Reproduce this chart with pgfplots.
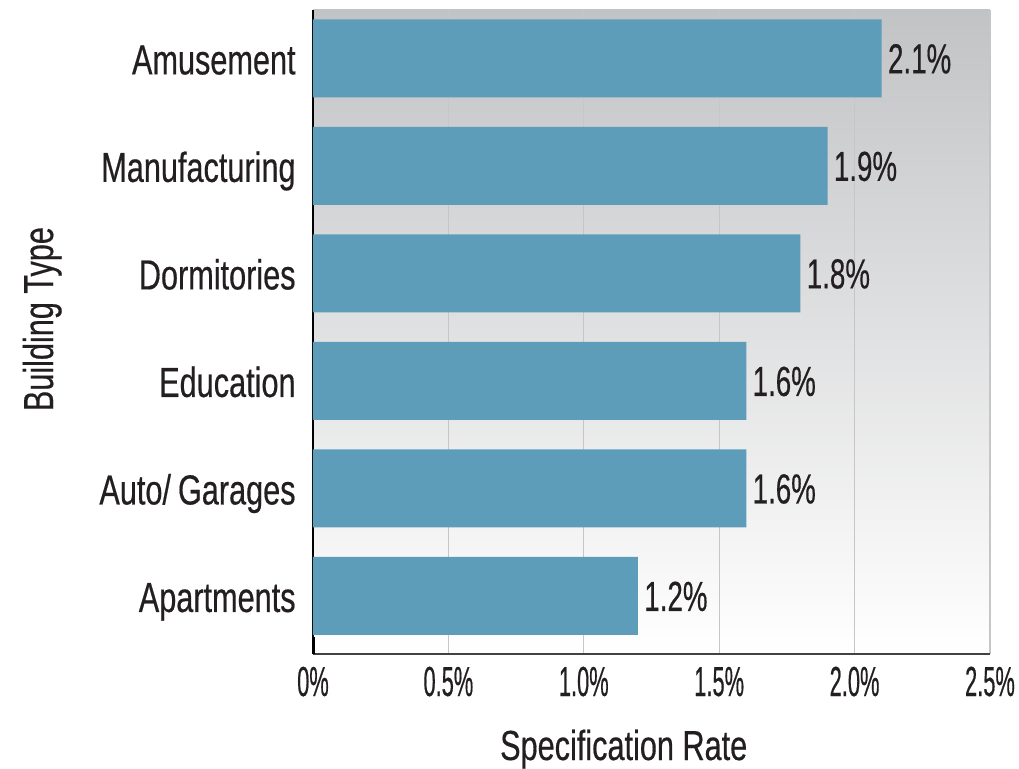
\documentclass[border=0pt]{standalone}
\usepackage{pgfplots}
\pgfplotsset{compat=1.18}
\usepackage{fontspec}
\setmainfont{Liberation Sans}[FakeStretch=0.73, FakeBold=0.4]
\newfontfamily\tickfont{Liberation Sans}[FakeStretch=0.52, FakeBold=0.4]
\newfontfamily\valfont{Liberation Sans}[FakeStretch=0.66, FakeBold=0.4]
\definecolor{barblue}{HTML}{5E9DBA}
\definecolor{bgtop}{HTML}{C2C3C5}
\definecolor{txt}{HTML}{231F20}
\definecolor{gridgray}{HTML}{C6C6C8}
\begin{document}
\begin{tikzpicture}
\begin{axis}[
    xbar,
    bar width=0.725,
    scale only axis,
    width=338.5pt, height=322pt,
    xmin=0, xmax=2.5,
    ymin=-0.54, ymax=5.45,
    axis x line*=bottom,
    axis y line*=left,
    x axis line style={draw=txt!85, line width=1pt, -},
    y axis line style={draw=black, line width=1pt, -},
    axis background/.style={top color=bgtop, bottom color=white},
    xtick={0,0.5,1.0,1.5,2.0,2.5},
    xticklabels={0\%,0.5\%,1.0\%,1.5\%,2.0\%,2.5\%},
    ytick={0,1,2,3,4,5},
    yticklabels={Apartments,Auto/\,Garages,Education,Dormitories,Manufacturing,Amusement},
    major tick length=0pt,
    xmajorgrids=true,
    grid style={gridgray, line width=0.6pt},
    /pgf/number format/assume math mode=true,
    yticklabel style={font=\fontsize{21}{25}\selectfont, text=txt, inner sep=0pt,
        anchor=base east, xshift=-8.5pt, yshift=-8pt},
    xticklabel style={font=\tickfont\fontsize{21}{25}\selectfont, text=txt, inner sep=0pt,
        anchor=base, yshift=-21pt},
    xlabel={Specification Rate},
    ylabel={Building Type},
    label style={font=\fontsize{21}{25}\selectfont, text=txt, inner sep=0pt},
    xlabel style={at={(axis description cs:0.459,-0.1646)}, anchor=base},
    ylabel style={at={(axis description cs:-0.384,0.52)}, anchor=base, rotate=0},
    nodes near coords={\pgfmathprintnumber[fixed,precision=1,fixed zerofill]{\pgfplotspointmeta}\%},
    nodes near coords align={horizontal},
    every node near coord/.append style={font=\valfont\fontsize{21}{25}\selectfont, text=txt,
        inner sep=0pt, anchor=base west, xshift=3pt, yshift=-7.5pt},
]
\addplot[fill=barblue, draw=none]
    coordinates {(1.2,0) (1.6,1) (1.6,2) (1.8,3) (1.9,4) (2.1,5)};
\draw[black, line width=2.5pt] (axis cs:0,-0.54) -- (axis cs:0,-0.38);
\end{axis}
\pgfresetboundingbox
\path (-156.5pt,-57pt) rectangle (353pt,327pt);
\end{tikzpicture}
\end{document}
